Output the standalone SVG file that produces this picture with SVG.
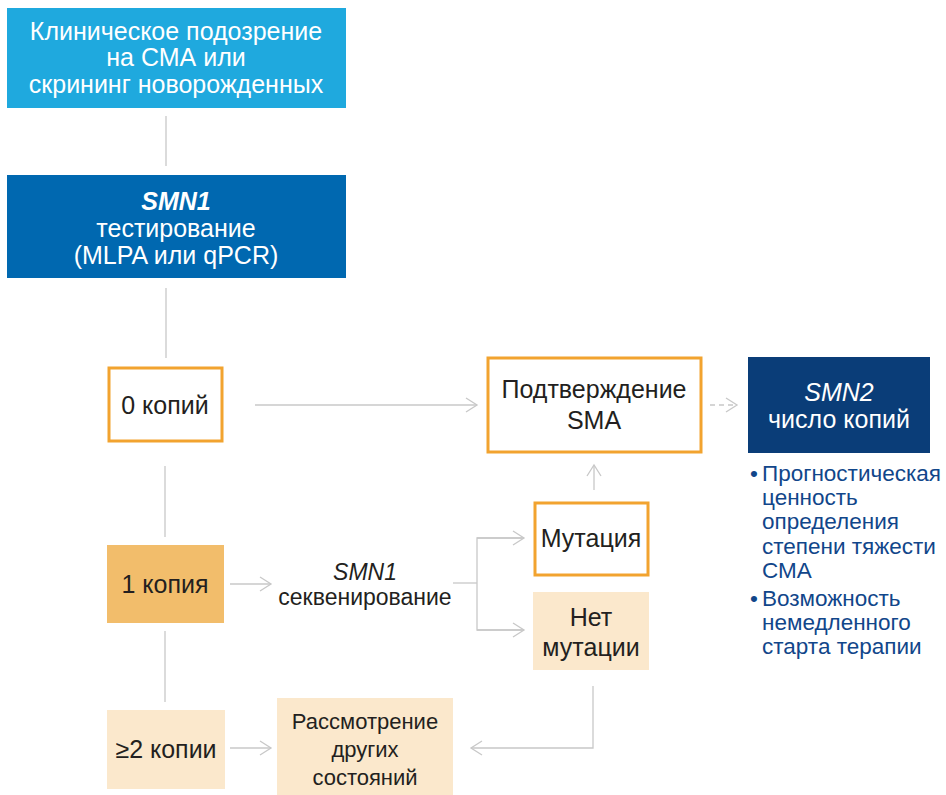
<svg xmlns="http://www.w3.org/2000/svg" width="946" height="795" viewBox="0 0 946 795">
<defs>
<marker id="ah" markerWidth="14" markerHeight="16" refX="12" refY="8" orient="auto" markerUnits="userSpaceOnUse">
<path d="M1,1 L12,8 L1,15" fill="none" stroke="#c8c8c8" stroke-width="1.3"/>
</marker>
</defs>
<style>
text{font-family:"Liberation Sans",Arial,sans-serif;text-anchor:middle}
.w{fill:#fff;font-size:25px}
.d{fill:#231f20;font-size:25px}
.b{fill:#11468a;font-size:22.5px;text-anchor:start}
.ln{stroke:#c8c8c8;stroke-width:1.3;fill:none}
.or{fill:#fff;stroke:#f2a32f;stroke-width:3}
.pl{fill:#fbe8cc}
</style>
<g id="connectors">
<line class="ln" x1="166" y1="116" x2="166" y2="166"/>
<line class="ln" x1="166" y1="288" x2="166" y2="358"/>
<line class="ln" x1="165" y1="466" x2="165" y2="537"/>
<line class="ln" x1="165" y1="631" x2="165" y2="702"/>
<line class="ln" x1="255" y1="405" x2="477" y2="405" marker-end="url(#ah)"/>
<line class="ln" x1="710" y1="405" x2="737" y2="405" stroke-dasharray="5,4" marker-end="url(#ah)"/>
<line class="ln" x1="230" y1="584" x2="271" y2="584" marker-end="url(#ah)"/>
<polyline class="ln" points="453,583 477,583"/>
<polyline class="ln" points="524,538 477,538 477,630 524,630"/>
<line class="ln" x1="477" y1="538" x2="524" y2="538" marker-end="url(#ah)"/>
<line class="ln" x1="477" y1="630" x2="524" y2="630" marker-end="url(#ah)"/>
<line class="ln" x1="594" y1="490" x2="594" y2="465" marker-end="url(#ah)"/>
<polyline class="ln" points="593,686 593,748 471,748" marker-end="url(#ah)"/>
<line class="ln" x1="230" y1="748" x2="271" y2="748" marker-end="url(#ah)"/>
</g>
<g id="n1">
<rect x="7" y="8" width="339" height="100" fill="#1fa9de"/>
<text class="w" x="176" y="40">Клиническое подозрение</text>
<text class="w" x="176" y="66">на СМА или</text>
<text class="w" x="176" y="93">скрининг новорожденных</text>
</g>
<g id="n2">
<rect x="7" y="175" width="339" height="103" fill="#0068b0"/>
<text class="w" x="176" y="210" font-weight="bold" font-style="italic">SMN1</text>
<text class="w" x="176" y="237">тестирование</text>
<text class="w" x="176" y="264">(MLPA или qPCR)</text>
</g>
<g id="n3">
<rect class="or" x="109" y="368" width="113" height="73"/>
<text class="d" x="165" y="414">0 копий</text>
</g>
<g id="n4">
<rect x="107" y="545" width="117" height="78" fill="#f2bd6b"/>
<text class="d" x="165" y="593">1 копия</text>
</g>
<g id="n5">
<rect class="pl" x="107" y="710" width="118" height="79"/>
<text class="d" x="166" y="758">≥2 копии</text>
</g>
<g id="n6">
<text class="d" x="365" y="580" font-style="italic" style="font-size:23px">SMN1</text>
<text class="d" x="365" y="605" style="font-size:23px">секвенирование</text>
</g>
<g id="n7">
<rect class="or" x="488" y="358" width="213" height="94"/>
<text class="d" x="594" y="398">Подтверждение</text>
<text class="d" x="594" y="429">SMA</text>
</g>
<g id="n8">
<rect x="748" y="357" width="182" height="96" fill="#0a3d78"/>
<text class="w" x="839" y="401" font-style="italic">SMN2</text>
<text class="w" x="839" y="428">число копий</text>
</g>
<g id="n9">
<rect class="or" x="535" y="503" width="113" height="72"/>
<text class="d" x="591" y="547">Мутация</text>
</g>
<g id="n10">
<rect class="pl" x="533" y="592" width="116" height="78"/>
<text class="d" x="591" y="626">Нет</text>
<text class="d" x="591" y="656">мутации</text>
</g>
<g id="n11">
<rect class="pl" x="277" y="698" width="176" height="97"/>
<text class="d" x="365" y="729" style="font-size:22px">Рассмотрение</text>
<text class="d" x="365" y="757" style="font-size:22px">других</text>
<text class="d" x="365" y="785" style="font-size:22px">состояний</text>
</g>
<g id="bullets">
<text class="b" x="750" y="481">•</text>
<text class="b" x="762" y="481">Прогностическая</text>
<text class="b" x="762" y="505">ценность</text>
<text class="b" x="762" y="529">определения</text>
<text class="b" x="762" y="554">степени тяжести</text>
<text class="b" x="762" y="578">СМА</text>
<text class="b" x="750" y="606">•</text>
<text class="b" x="762" y="606">Возможность</text>
<text class="b" x="762" y="630">немедленного</text>
<text class="b" x="762" y="654">старта терапии</text>
</g>
</svg>
